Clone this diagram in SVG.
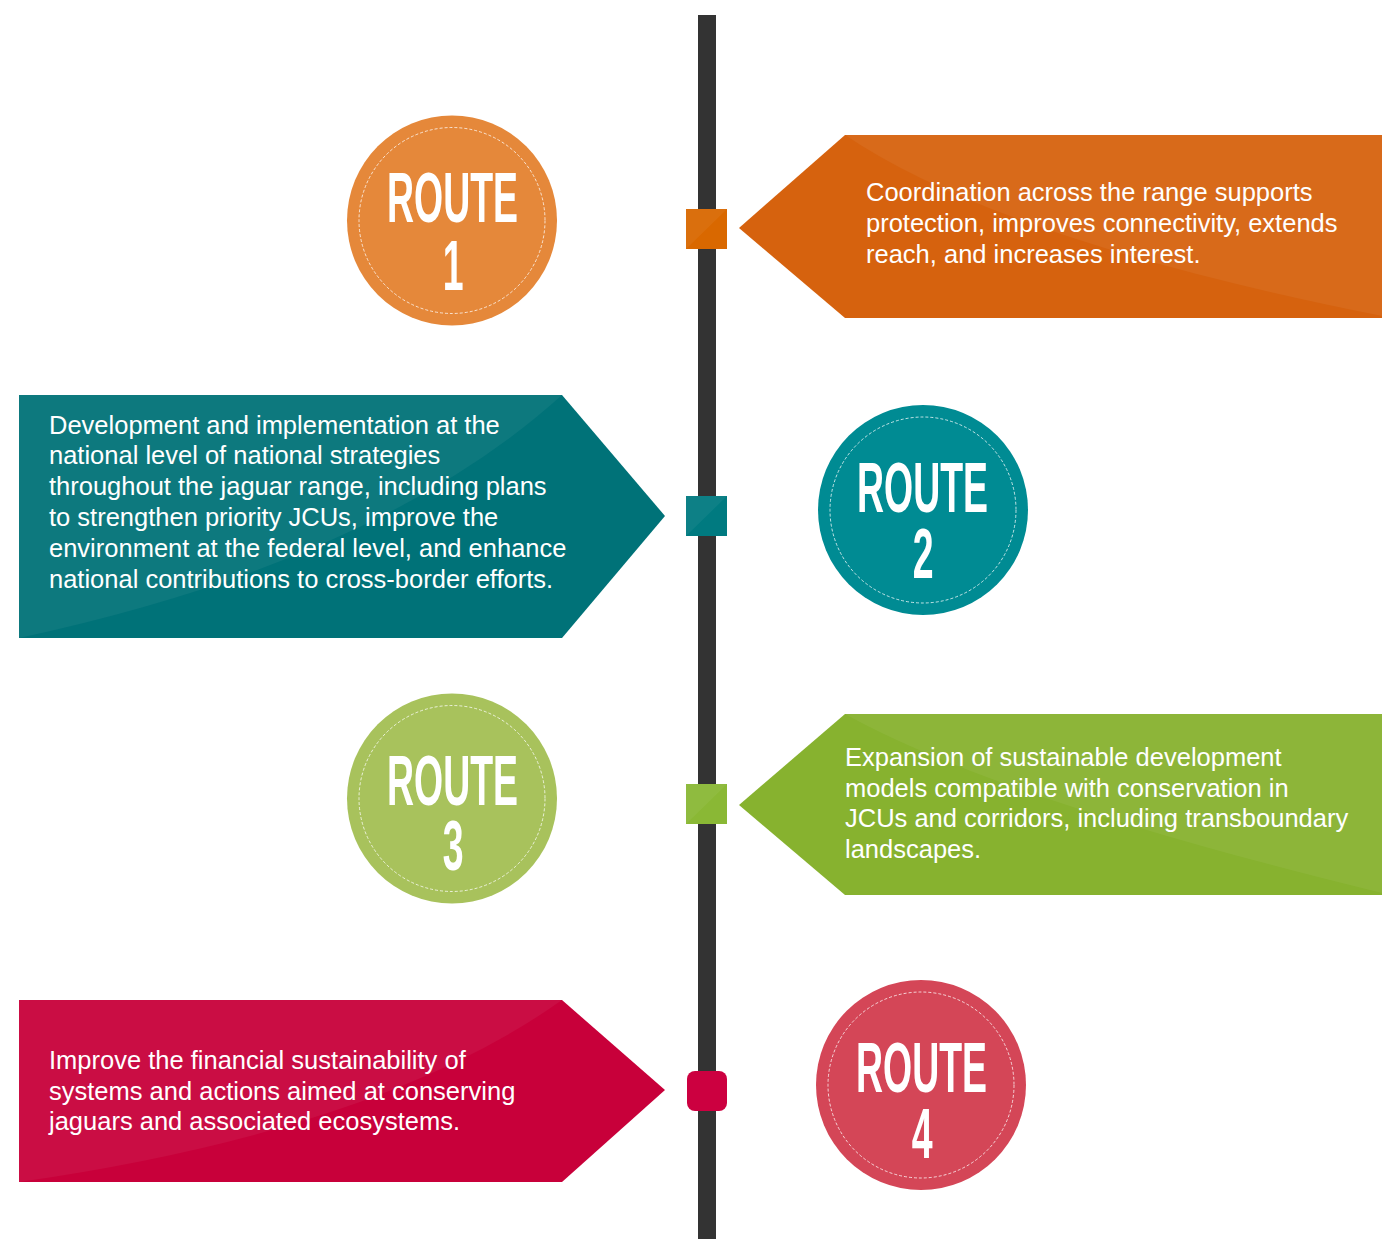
<svg xmlns="http://www.w3.org/2000/svg" width="1382" height="1239" viewBox="0 0 1382 1239">
<style>
.body{font-family:"Liberation Sans",Arial,sans-serif;font-size:25.5px;fill:#ffffff}
.rt{font-family:"Liberation Sans",Arial,sans-serif;font-weight:bold;font-size:70px;fill:#ffffff;text-anchor:middle}
.dash{fill:none;stroke:#ffffff;stroke-opacity:0.75;stroke-width:1;stroke-dasharray:3 2}
.hl{fill:#ffffff;fill-opacity:0.05}
</style>
<rect width="1382" height="1239" fill="#ffffff"/>
<g id="connectors">
<rect x="698" y="15" width="18" height="1224" fill="#333333"/>
</g>
<g id="marker1">
<rect x="686" y="209" width="41" height="40" fill="#d96800"/>
<path d="M686,249 L727,209 L686,209 Z" class="hl"/>
</g>
<g id="marker2">
<rect x="686" y="496" width="41" height="40" fill="#007a80"/>
<path d="M686,536 L727,496 L686,496 Z" class="hl"/>
</g>
<g id="marker3">
<rect x="686" y="784" width="41" height="40" fill="#8ab835"/>
<path d="M686,824 L727,784 L686,784 Z" class="hl"/>
</g>
<g id="marker4">
<rect x="687" y="1071" width="40" height="40" rx="8" fill="#cc0040"/>
</g>
<g id="route1">
<circle cx="452" cy="220.5" r="105" fill="#e5883a"/>
<circle cx="452" cy="220.5" r="93" class="dash"/>
<text class="rt" transform="translate(452.5,222) scale(0.535,1)"><tspan x="0" y="0">ROUTE</tspan><tspan x="1" y="68">1</tspan></text>
</g>
<g id="box1">
<path d="M739,228 L845,135 L1382,135 L1382,318 L845,318 Z" fill="#d6620e"/>
<path d="M845,135 Q1000,240 1382,316 L1382,135 Z" class="hl"/>
<text class="body" x="866" y="201">Coordination across the range supports</text>
<text class="body" x="866" y="232">protection, improves connectivity, extends</text>
<text class="body" x="866" y="263">reach, and increases interest.</text>
</g>
<g id="box2">
<path d="M19,395 L562,395 L665,516 L562,638 L19,638 Z" fill="#007278"/>
<path d="M19,638 Q380,560 562,395 L19,395 Z" class="hl"/>
<text class="body" x="49" y="433.5">Development and implementation at the</text>
<text class="body" x="49" y="464.3">national level of national strategies</text>
<text class="body" x="49" y="495.1">throughout the jaguar range, including plans</text>
<text class="body" x="49" y="525.9">to strengthen priority JCUs, improve the</text>
<text class="body" x="49" y="556.7">environment at the federal level, and enhance</text>
<text class="body" x="49" y="587.5">national contributions to cross-border efforts.</text>
</g>
<g id="route2">
<circle cx="923" cy="510" r="105" fill="#008b93"/>
<circle cx="923" cy="510" r="93" class="dash"/>
<text class="rt" transform="translate(922.5,512) scale(0.535,1)"><tspan x="0" y="0">ROUTE</tspan><tspan x="1" y="66">2</tspan></text>
</g>
<g id="route3">
<circle cx="452" cy="798.5" r="105" fill="#a8c25c"/>
<circle cx="452" cy="798.5" r="93" class="dash"/>
<text class="rt" transform="translate(452.5,805) scale(0.535,1)"><tspan x="0" y="0">ROUTE</tspan><tspan x="1" y="65">3</tspan></text>
</g>
<g id="box3">
<path d="M739,805 L845,714 L1382,714 L1382,895 L845,895 Z" fill="#87b22f"/>
<path d="M845,714 Q1000,800 1382,893 L1382,714 Z" class="hl"/>
<text class="body" x="845" y="766">Expansion of sustainable development</text>
<text class="body" x="845" y="797">models compatible with conservation in</text>
<text class="body" x="845" y="827">JCUs and corridors, including transboundary</text>
<text class="body" x="845" y="858">landscapes.</text>
</g>
<g id="box4">
<path d="M19,1000 L562,1000 L665,1090 L562,1182 L19,1182 Z" fill="#c8003a"/>
<path d="M19,1182 Q380,1130 562,1000 L19,1000 Z" class="hl"/>
<text class="body" x="49" y="1069">Improve the financial sustainability of</text>
<text class="body" x="49" y="1100">systems and actions aimed at conserving</text>
<text class="body" x="49" y="1130">jaguars and associated ecosystems.</text>
</g>
<g id="route4">
<circle cx="921" cy="1085" r="105" fill="#d44657"/>
<circle cx="921" cy="1085" r="93" class="dash"/>
<text class="rt" transform="translate(921.5,1092) scale(0.535,1)"><tspan x="0" y="0">ROUTE</tspan><tspan x="1" y="66">4</tspan></text>
</g>
</svg>
